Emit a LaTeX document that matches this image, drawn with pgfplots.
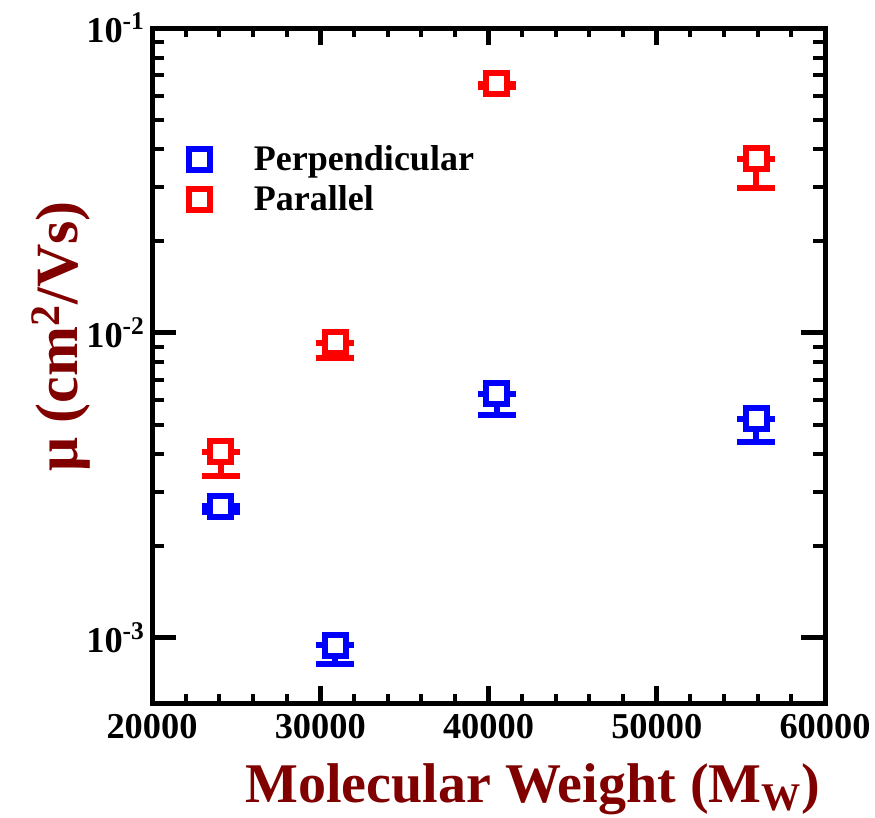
\documentclass[border=0pt]{standalone}
\usepackage{fontspec}
\setmainfont{Liberation Serif}
\usepackage{pgfplots}
\pgfplotsset{compat=1.18}
\definecolor{lab}{HTML}{800000}
\begin{document}
\begin{tikzpicture}
\begin{axis}[
  scale only axis,
  width=336.5pt, height=337.5pt,
  xmin=20000, xmax=60000,
  ymode=log, ymin=6.1e-4, ymax=1e-1,
  xtick={20000,30000,40000,50000,60000},
  minor x tick num=4,
  ytick={1e-3,1e-2,1e-1},
  yticklabels={10\textsuperscript{-3},10\textsuperscript{-2},10\textsuperscript{-1}},
  /pgf/number format/assume math mode=true,
  /pgf/number format/set thousands separator={},
  scaled x ticks=false,
  tick align=inside,
  axis line style={line width=2.5pt},
  major tick style={line width=2.5pt, black},
  minor tick style={line width=2pt, black},
  xtick style={/pgfplots/major tick length=8.5pt, /pgfplots/minor tick length=4.5pt},
  ytick style={/pgfplots/major tick length=12pt, /pgfplots/minor tick length=6pt},
  tick label style={font=\bfseries\fontsize{18.2}{18.2}\selectfont},
  xticklabel style={yshift=-2pt},
  xlabel={Molecular Weight (M\textsubscript{W})},
  ylabel={μ (cm\textsuperscript{2}/Vs)},
  label style={text=lab},
  xlabel style={font=\bfseries\fontsize{28}{28}\selectfont, at={(axis description cs:0.566,-0.147)}, anchor=base},
  ylabel style={font=\bfseries\fontsize{30}{30}\selectfont, at={(axis description cs:-0.110,0.543)}, anchor=base, rotate=0},
  legend style={at={(axis description cs:0.041,0.839)}, anchor=north west, draw=none, fill=none,
    font=\bfseries\fontsize{18}{20}\selectfont, row sep=2pt},
  legend cell align=left,
  legend image code/.code={\draw[#1] plot coordinates {(0pt,0pt)}; \path[draw=none] (-7pt,0pt) -- (25pt,0pt);},
  error bars/y dir=both, error bars/y explicit,
  error bars/error bar style={line width=3pt},
  error bars/error mark options={line width=3pt, mark size=9.5pt, rotate=90},
]
\addplot[only marks, blue, mark=square*, mark size=5.25pt, line width=3pt,
  mark options={fill=white, line width=3pt}, error bars/error bar style={blue, line width=3pt}]
  coordinates {
  (24100, 2.70e-3) += (0,0) -= (0,0.11e-3)
  (30900, 9.45e-4) += (0,0) -= (0,1.27e-4)
  (40500, 6.31e-3) += (0,0) -= (0,0.93e-3)
  (55900, 5.22e-3) += (0,0) -= (0,0.83e-3)
  };
\addlegendentry{Perpendicular}
\addplot[only marks, red, mark=square*, mark size=5.25pt, line width=3pt,
  mark options={fill=white, line width=3pt}, error bars/error bar style={red, line width=3pt}]
  coordinates {
  (24100, 4.07e-3) += (0,0) -= (0,0.67e-3)
  (30900, 9.27e-3) += (0,0) -= (0,0.99e-3)
  (40500, 6.57e-2) += (0,0) -= (0,0.16e-2)
  (55900, 3.72e-2) += (0,0) -= (0,0.73e-2)
  };
\addlegendentry{Parallel}
\end{axis}
\pgfresetboundingbox
\path[use as bounding box] ([shift={(-76pt,-57pt)}]current axis.south west) rectangle ([shift={(25pt,14pt)}]current axis.north east);
\end{tikzpicture}
\end{document}
